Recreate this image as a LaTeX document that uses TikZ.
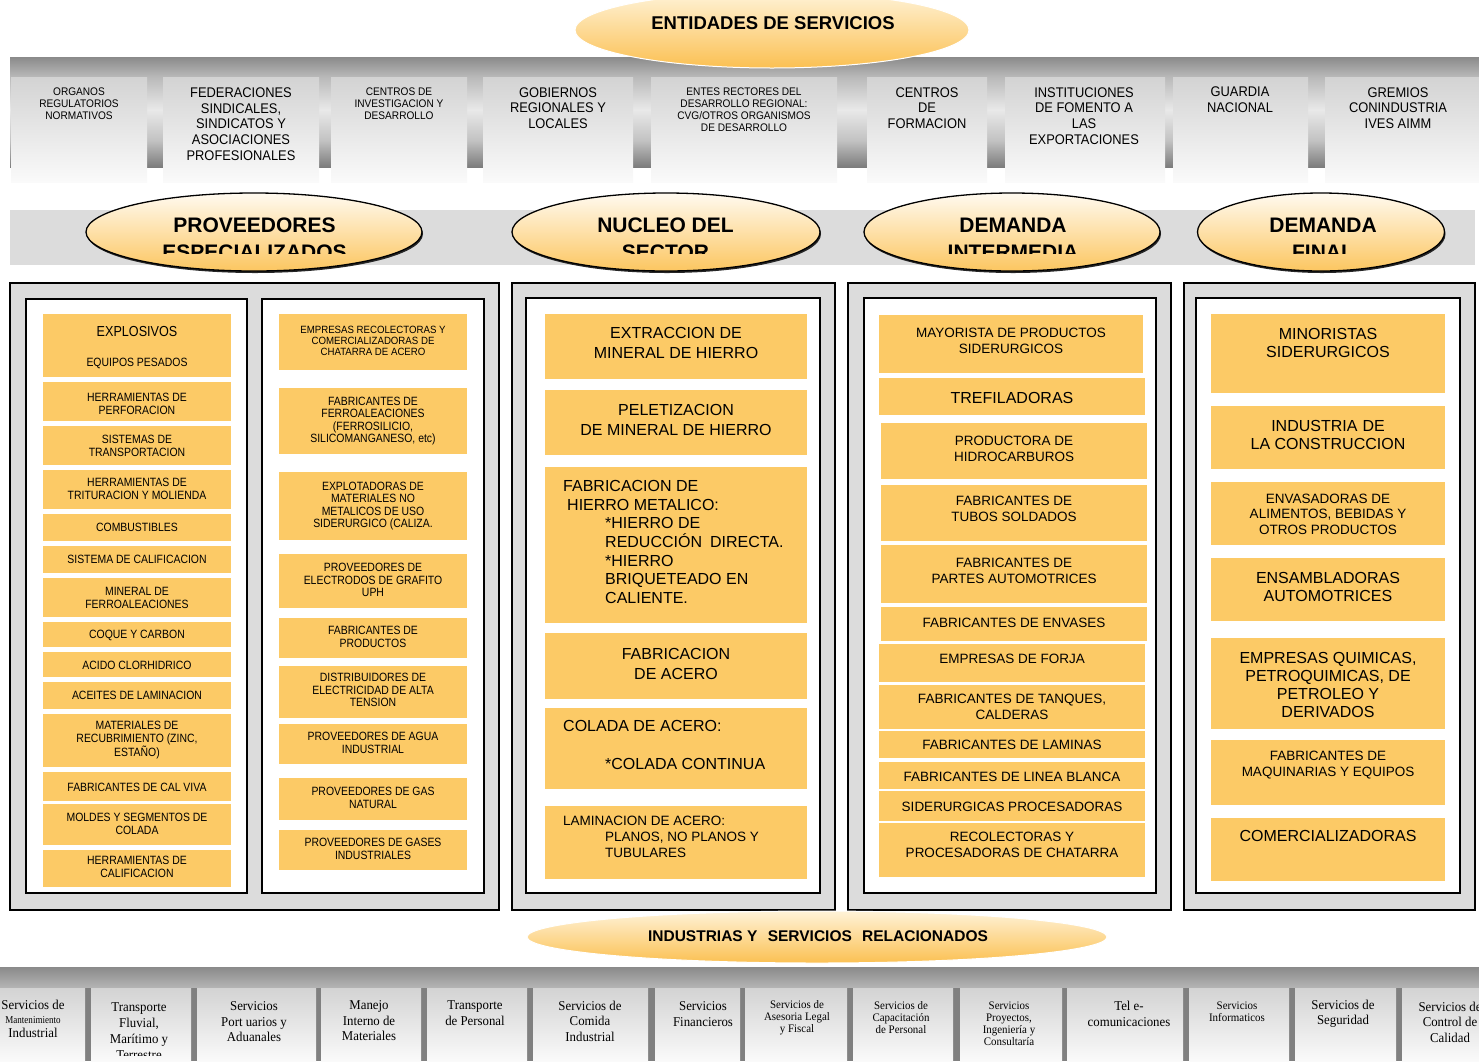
\documentclass[tikz,border=0pt]{standalone}
\usepackage{fontspec}
\setmainfont{Liberation Sans}
\newfontfamily\fA[FakeStretch=0.87]{Liberation Sans}
\newfontfamily\fB[FakeStretch=0.92]{Liberation Sans}
\newfontfamily\fS[FakeStretch=0.95]{Liberation Serif}
\newfontfamily\fSc[FakeStretch=0.86]{Liberation Serif}
\usetikzlibrary{shapes.geometric,shadows}
\newcommand\fsz[2]{\fontsize{#1}{#2}\selectfont}
\definecolor{orfill}{HTML}{FCCA66}
\definecolor{colgray}{HTML}{DCDCDC}
\definecolor{bd1}{HTML}{8A8A8A}
\definecolor{bm1}{HTML}{B9B9B9}
\definecolor{bl}{HTML}{E9E9E9}
\definecolor{bm2}{HTML}{C2C2C2}
\definecolor{bd3}{HTML}{7C7C7C}
\definecolor{boxT}{HTML}{D3D3D3}
\definecolor{boxB}{HTML}{FAFAFA}
\definecolor{sepgray}{HTML}{808080}
\definecolor{hdrT}{HTML}{FFFAF0}
\definecolor{hdrB}{HTML}{FCC660}
\definecolor{elT}{HTML}{FFF3D8}
\definecolor{elB}{HTML}{FBC052}
\pgfdeclareverticalshading{topband}{100bp}{color(0bp)=(bd3); color(25bp)=(bd3); color(37bp)=(bm2); color(51bp)=(bl); color(66bp)=(bm1); color(75bp)=(bd1); color(100bp)=(bd1)}
\newcommand\OB[8]{\fill[orfill] (#2,#3) rectangle (#4,#5); \node[tx,#7] (#1) at ({(#2+#4)/2},#6) {#8};}
\newcommand\TB[3]{\shade[top color=boxT, bottom color=boxB] (#2,77) rectangle (#3,182); \coordinate (#1) at ({(#2+#3)/2},77);}
\newcommand\BB[3]{\shade[top color=boxT, bottom color=boxB] (#2,988) rectangle (#3,1061); \coordinate (#1) at ({(#2+#3)/2},988);}
\begin{document}
\begin{tikzpicture}[x=1pt,y=-1pt,
  tx/.style={inner sep=0pt, align=center, text=black},
  txl/.style={inner sep=0pt, align=left, text=black},
  c1/.style={font=\fA\fsz{12}{12.6}},
  c1s/.style={font=\fB\fsz{10.5}{11.2}},
  c2/.style={font=\fsz{16}{19.5}},
  c3/.style={font=\fsz{13.5}{16}},
  c3l/.style={font=\fsz{16}{18}},
  c4/.style={font=\fsz{16}{18}},
  c4s/.style={font=\fsz{13.5}{15.5}},
  tA/.style={font=\fB\fsz{14}{15.7}},
  tS/.style={font=\fB\fsz{11}{12}},
  bs/.style={font=\fS\fsz{13.5}{15.5}},
  bss/.style={font=\fS\fsz{11.5}{12}},
  hdr/.style={ellipse, draw=black, line width=1.3pt, inner sep=0pt, top color=hdrT, bottom color=hdrB,
     drop shadow={shadow xshift=1pt, shadow yshift=-2pt, fill=black!85, opacity=1}},
  hdrtxt/.style={inner sep=0pt, anchor=base, font=\bfseries\fsz{21}{27}},
  ell/.style={ellipse, draw=white, line width=1pt, inner sep=0pt, top color=elT, bottom color=elB},
  colbox/.style={draw=black, line width=2pt, fill=colgray},
  inbox/.style={draw=black, line width=2pt, fill=white}]
\useasboundingbox (0,0) rectangle (1479,1061);

% ---------- top band ----------
\shade[shading=topband] (10,57) rectangle (1479,167);
\TB{t1}{11}{147}
\TB{t2}{163}{319}
\TB{t3}{331}{467}
\TB{t4}{483}{633}
\TB{t5}{651}{837}
\TB{t6}{867}{987}
\TB{t7}{1005}{1165}
\TB{t8}{1173}{1308}
\TB{t9}{1325}{1479}
\node[tx,tS] (t1t) at (79,103.5) {ORGANOS\\REGULATORIOS\\NORMATIVOS};
\node[tx,tA] (t2t) at (241,124) {FEDERACIONES\\SINDICALES,\\SINDICATOS Y\\ASOCIACIONES\\PROFESIONALES};
\node[tx,tS] (t3t) at (399,103.5) {CENTROS DE\\INVESTIGACION Y\\DESARROLLO};
\node[tx,tA] (t4t) at (558,108) {GOBIERNOS\\REGIONALES Y\\LOCALES};
\node[tx,tS] (t5t) at (744,109.5) {ENTES RECTORES DEL\\DESARROLLO REGIONAL:\\CVG/OTROS ORGANISMOS\\DE DESARROLLO};
\node[tx,tA] (t6t) at (927,108) {CENTROS\\DE\\FORMACION};
\node[tx,tA] (t7t) at (1084,116) {INSTITUCIONES\\DE FOMENTO A\\LAS\\EXPORTACIONES};
\node[tx,tA] (t8t) at (1240,100) {GUARDIA\\NACIONAL};
\node[tx,tA] (t9t) at (1398,108) {GREMIOS\\CONINDUSTRIA\\IVES AIMM};

\node[ell, minimum width=394, minimum height=76] (ent) at (772,30) {};
\node[tx, font=\bfseries\fsz{18.5}{20}] (entt) at (773,23) {ENTIDADES DE SERVICIOS};

% ---------- header band ----------
\fill[colgray] (10,210) rectangle (1475,265);
\node[hdr, minimum width=336, minimum height=78] (h1) at (254,232) {};
\node[hdr, minimum width=308, minimum height=78] (h2) at (666,232) {};
\node[hdr, minimum width=296, minimum height=78] (h3) at (1012,232) {};
\node[hdr, minimum width=247, minimum height=78] (h4) at (1321,232) {};
\begin{scope}
\clip (0,200) rectangle (1479,253.5);
\node[hdrtxt] (h1a) at (254.5,232) {PROVEEDORES};
\node[hdrtxt] (h1b) at (254.5,259) {ESPECIALIZADOS};
\node[hdrtxt] (h2a) at (665.5,232) {NUCLEO DEL};
\node[hdrtxt] (h2b) at (665.5,259) {SECTOR};
\node[hdrtxt] (h3a) at (1013,232) {DEMANDA};
\node[hdrtxt] (h3b) at (1013,259) {INTERMEDIA};
\node[hdrtxt] (h4a) at (1323,232) {DEMANDA};
\node[hdrtxt] (h4b) at (1323,259) {FINAL};
\end{scope}

% ---------- columns ----------
\draw[colbox] (10,283) rectangle (499,910);
\draw[inbox] (26,299) rectangle (247,893);
\draw[inbox] (262,299) rectangle (484,893);
\draw[colbox] (512,283) rectangle (835,910);
\draw[inbox] (526,298) rectangle (820,893);
\draw[colbox] (848,283) rectangle (1171,910);
\draw[inbox] (864,298) rectangle (1156,893);
\draw[colbox] (1184,283) rectangle (1475,910);
\draw[inbox] (1196,298) rectangle (1460,893);

% column 1 A
\fill[orfill] (43,314) rectangle (231,377);
\node[tx,font=\fA\fsz{14.5}{15}] (a1) at (137,331) {EXPLOSIVOS};
\node[tx,c1] (a1b) at (137,363) {EQUIPOS PESADOS};
\OB{a2}{43}{382}{231}{421}{404}{c1}{HERRAMIENTAS DE\\PERFORACION}
\OB{a3}{43}{426}{231}{465}{446}{c1}{SISTEMAS DE\\TRANSPORTACION}
\OB{a4}{43}{470}{231}{509}{489}{c1}{HERRAMIENTAS DE\\TRITURACION Y MOLIENDA}
\OB{a5}{43}{514}{231}{541}{527}{c1}{COMBUSTIBLES}
\OB{a6}{43}{546}{231}{573}{559}{c1}{SISTEMA DE CALIFICACION}
\OB{a7}{43}{578}{231}{617}{598}{c1}{MINERAL DE\\FERROALEACIONES}
\OB{a8}{43}{622}{231}{647}{635}{c1}{COQUE Y CARBON}
\OB{a9}{43}{652}{231}{677}{665}{c1}{ACIDO CLORHIDRICO}
\OB{a10}{43}{682}{231}{709}{695}{c1}{ACEITES DE LAMINACION}
\OB{a11}{43}{714}{231}{767}{740}{c1}{MATERIALES DE\\RECUBRIMIENTO (ZINC,\\ESTAÑO)}
\OB{a12}{43}{772}{231}{801}{787}{c1}{FABRICANTES DE CAL VIVA}
\OB{a13}{43}{804}{231}{845}{824}{c1}{MOLDES Y SEGMENTOS DE\\COLADA}
\OB{a14}{43}{850}{231}{887}{867}{c1}{HERRAMIENTAS DE\\CALIFICACION}

% column 1 B
\OB{b1}{279}{314}{467}{370}{341}{c1s}{EMPRESAS RECOLECTORAS Y\\COMERCIALIZADORAS DE\\CHATARRA DE ACERO}
\OB{b2}{279}{388}{467}{454}{421}{c1}{FABRICANTES DE\\FERROALEACIONES\\(FERROSILICIO,\\SILICOMANGANESO, etc)}
\OB{b3}{279}{472}{467}{540}{506}{c1}{EXPLOTADORAS DE\\MATERIALES NO\\METALICOS DE USO\\SIDERURGICO (CALIZA.}
\OB{b4}{279}{554}{467}{608}{580}{c1}{PROVEEDORES DE\\ELECTRODOS DE GRAFITO\\UPH}
\OB{b5}{279}{618}{467}{658}{637}{c1}{FABRICANTES DE\\PRODUCTOS}
\OB{b6}{279}{666}{467}{718}{690}{c1}{DISTRIBUIDORES DE\\ELECTRICIDAD DE ALTA\\TENSION}
\OB{b7}{279}{724}{467}{764}{743}{c1}{PROVEEDORES DE AGUA\\INDUSTRIAL}
\OB{b8}{279}{778}{467}{820}{798}{c1}{PROVEEDORES DE GAS\\NATURAL}
\OB{b9}{279}{830}{467}{870}{849}{c1}{PROVEEDORES DE GASES\\INDUSTRIALES}

% column 2
\OB{n1}{545}{314}{807}{379}{343}{c2}{EXTRACCION DE\\MINERAL DE HIERRO}
\OB{n2}{545}{390}{807}{455}{420}{c2}{PELETIZACION\\DE MINERAL DE HIERRO}
\fill[orfill] (545,467) rectangle (807,623);
\node[txl,c2,anchor=north west,font=\fsz{16}{18.7}] (n3) at (563,480) {FABRICACION DE\\\hspace*{4pt}HIERRO METALICO:\\\hspace*{42pt}*HIERRO DE\\\hspace*{42pt}REDUCCIÓN\hspace{8pt}DIRECTA.\\\hspace*{42pt}*HIERRO\\\hspace*{42pt}BRIQUETEADO EN\\\hspace*{42pt}CALIENTE.};
\OB{n4}{545}{633}{807}{699}{664}{c2}{FABRICACION\\DE ACERO}
\fill[orfill] (545,708) rectangle (807,789);
\node[txl,c2,anchor=west] (n5) at (563,726) {COLADA DE ACERO:};
\node[txl,c2,anchor=west] (n5b) at (605,764) {*COLADA CONTINUA};
\fill[orfill] (545,806) rectangle (807,879);
\node[txl,anchor=north west,font=\fsz{13.5}{16}] (n6) at (563,816) {LAMINACION DE ACERO:\\\hspace*{42pt}PLANOS, NO PLANOS Y\\\hspace*{42pt}TUBULARES};

% column 3
\OB{d1}{879}{315}{1143}{373}{341}{c3}{MAYORISTA DE PRODUCTOS\\SIDERURGICOS}
\OB{d2}{879}{378}{1145}{415}{398}{c3l}{TREFILADORAS}
\OB{d3}{881}{423}{1147}{479}{449}{c3}{PRODUCTORA DE\\HIDROCARBUROS}
\OB{d4}{881}{485}{1147}{541}{509}{c3}{FABRICANTES DE\\TUBOS SOLDADOS}
\OB{d5}{881}{545}{1147}{603}{571}{c3}{FABRICANTES DE\\PARTES AUTOMOTRICES}
\OB{d6}{881}{607}{1147}{641}{623}{c3}{FABRICANTES DE ENVASES}
\OB{d7}{879}{644}{1145}{682}{659}{c3}{EMPRESAS DE FORJA}
\OB{d8}{879}{685}{1145}{729}{707}{c3}{FABRICANTES DE TANQUES,\\CALDERAS}
\OB{d9}{879}{731}{1145}{758}{745}{c3}{FABRICANTES DE LAMINAS}
\OB{d10}{879}{762}{1145}{789}{777}{c3}{FABRICANTES DE LINEA BLANCA}
\OB{d11}{879}{791}{1145}{821}{807}{c3}{SIDERURGICAS PROCESADORAS}
\OB{d12}{879}{823}{1145}{877}{845}{c3}{RECOLECTORAS Y\\PROCESADORAS DE CHATARRA}

% column 4
\OB{e1}{1211}{314}{1445}{393}{343}{c4}{MINORISTAS\\SIDERURGICOS}
\OB{e2}{1211}{406}{1445}{469}{435}{c4}{INDUSTRIA\hspace{5pt}DE\\LA CONSTRUCCION}
\OB{e3}{1211}{482}{1445}{545}{514}{c4s}{ENVASADORAS DE\\ALIMENTOS, BEBIDAS Y\\OTROS PRODUCTOS}
\OB{e4}{1211}{558}{1445}{621}{587}{c4}{ENSAMBLADORAS\\AUTOMOTRICES}
\OB{e5}{1211}{638}{1445}{729}{685}{c4}{EMPRESAS QUIMICAS,\\PETROQUIMICAS, DE\\PETROLEO Y\\DERIVADOS}
\OB{e6}{1211}{740}{1445}{805}{765}{c4s}{FABRICANTES DE\\MAQUINARIAS Y EQUIPOS}
\OB{e7}{1211}{818}{1445}{881}{836}{c4}{COMERCIALIZADORAS}

% ---------- bottom band ----------
\shade[top color=bd1, bottom color=bm1] (0,967) rectangle (1479,990);
\fill[sepgray] (0,988) rectangle (1479,1061);
\BB{u1}{0}{85}
\BB{u2}{91}{191}
\BB{u3}{197}{316}
\BB{u4}{321}{421}
\BB{u5}{427}{527}
\BB{u6}{533}{648}
\BB{u7}{655}{740}
\BB{u8}{745}{847}
\BB{u9}{853}{953}
\BB{u10}{960}{1062}
\BB{u11}{1067}{1183}
\BB{u12}{1189}{1289}
\BB{u13}{1295}{1396}
\BB{u14}{1402}{1479}
\node[tx,font=\fS\fsz{13.5}{14}] (bt1) at (33,1019) {Servicios de\\{\fSc\fsz{10.5}{12}Mantenimiento}\\Industrial};
\begin{scope}
\clip (91,988) rectangle (191,1055.5);
\node[tx,font=\fS\fsz{13.5}{16}] (bt2) at (139,1031) {Transporte\\Fluvial,\\Marítimo y\\Terrestre};
\end{scope}
\node[tx,bs] (bt3) at (254,1022) {Servicios\\Port uarios y\\Aduanales};
\node[tx,bs] (bt4) at (369,1021) {Manejo\\Interno de\\Materiales};
\node[tx,bs] (bt5) at (475,1013) {Transporte\\de Personal};
\node[tx,bs] (bt6) at (590,1021) {Servicios de\\Comida\\Industrial};
\node[tx,bs] (bt7) at (703,1014) {Servicios\\Financieros};
\node[tx,bss] (bt8) at (797,1018) {Servicios de\\Asesoria Legal\\y Fiscal};
\node[tx,bss] (bt9) at (901,1018) {Servicios de\\Capacitación\\de Personal};
\node[tx,bss] (bt10) at (1009,1024) {Servicios\\Proyectos,\\Ingeniería y\\Consultaría};
\node[tx,bs] (bt11) at (1129,1014) {Tel e-\\comunicaciones};
\node[tx,bss] (bt12) at (1237,1012) {Servicios\\Informaticos};
\node[tx,bs] (bt13) at (1343,1014) {Servicios de\\Seguridad};
\node[tx,bs] (bt14) at (1450,1022) {Servicios de\\Control de\\Calidad};

\node[ell, minimum width=580, minimum height=52] (ind) at (817,937) {};
\node[tx, font=\bfseries\fsz{15.5}{17}] (indt) at (818,936) {INDUSTRIAS Y\hspace{6pt} SERVICIOS\hspace{6pt} RELACIONADOS};
\end{tikzpicture}
\end{document}
